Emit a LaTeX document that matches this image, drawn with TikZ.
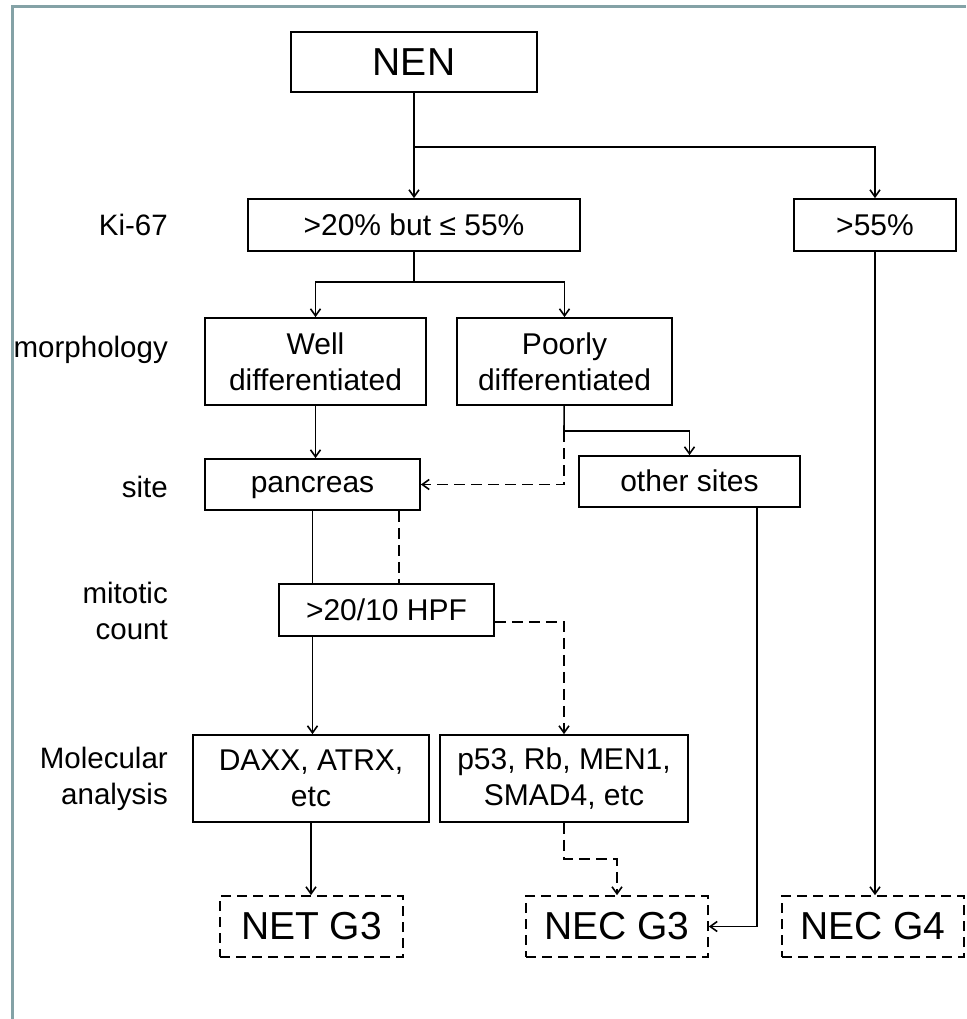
\documentclass[tikz,border=0pt]{standalone}
\usepackage{fontspec}
\setmainfont{Liberation Sans}
\usetikzlibrary{arrows.meta, positioning}

\definecolor{framegray}{RGB}{132,162,166}

\begin{document}
\begin{tikzpicture}[
    x=1pt, y=-1pt,
    stage/.style={rectangle, draw=black, line width=1.7pt, fill=white, inner sep=2pt, align=center, font=\fontsize{30}{36}\selectfont},
    grade/.style={stage, dash pattern=on 10pt off 6pt, font=\fontsize{39}{44}\selectfont},
    rowlabel/.style={anchor=east, align=right, inner sep=0pt, font=\fontsize{29.5}{36}\selectfont},
    conn/.style={line width=1.6pt, -{Straight Barb[length=7pt,width=10pt]}},
    dconn/.style={conn, dash pattern=on 11pt off 6pt},
    wire/.style={line width=1.6pt},
    dline/.style={wire, dash pattern=on 11pt off 6pt}
]
\useasboundingbox (0,0) rectangle (966,1019);

% Frame
\draw[framegray, line width=3pt] (966,7) -- (12,7) -- (12,1019);

% Row labels
\node[rowlabel] (lki) at (168,225) {Ki-67};
\node[rowlabel] (lmorph) at (168,350) {morphology};
\node[rowlabel] (lsite) at (168,487) {site};
\node[rowlabel] (lmit) at (168,611) {mitotic\\count};
\node[rowlabel] (lmol) at (168,779) {Molecular\\analysis};

% Boxes
\node[stage, minimum width=246pt, minimum height=60pt, font=\fontsize{39}{44}\selectfont] (nen) at (414,62) {NEN};

\node[stage, minimum width=332pt, minimum height=52pt] (mid) at (414,225) {>20\% but ≤ 55\%};
\node[stage, minimum width=162pt, minimum height=52pt] (high) at (875,225) {>55\%};

\node[stage, minimum width=221pt, minimum height=87pt] (well) at (315.5,361.5) {Well\\differentiated};
\node[stage, minimum width=215pt, minimum height=87pt] (poor) at (564.5,361.5) {Poorly\\differentiated};

\node[stage, minimum width=215pt, minimum height=51pt, text height=21pt, text depth=6pt] (pancreas) at (312.5,484.5) {pancreas};
\node[stage, minimum width=221pt, minimum height=51pt, text height=23pt, text depth=3pt] (other) at (689.5,481.5) {other sites};

\node[stage, minimum width=215pt, minimum height=52pt] (hpf) at (386.5,610) {>20/10 HPF};

\node[stage, minimum width=236pt, minimum height=87pt] (daxx) at (311,778.5) {DAXX, ATRX,\\etc};
\node[stage, minimum width=248pt, minimum height=87pt] (p53) at (564,778.5) {p53, Rb, MEN1,\\SMAD4, etc};

\node[grade, minimum width=183pt, minimum height=61pt] (netg3) at (311.5,926.5) {NET G3};
\node[grade, minimum width=182pt, minimum height=61pt] (necg3) at (617,926.5) {NEC G3};
\node[grade, minimum width=182pt, minimum height=61pt] (necg4) at (873,926.5) {NEC G4};

% Junctions
\coordinate (split) at (414,147);
\coordinate (fork) at (414,282);
\coordinate (pk) at (564,431);

% Connectors
\draw[conn] (nen) -- (mid);
\draw[conn] (split) -| (high);

\draw[wire] (mid) -- (fork);
\draw[conn] (fork) -| (well);
\draw[conn] (fork) -| (poor);

\draw[conn] (well) -- (well |- pancreas.north);
\draw[wire] (poor) -- (pk);
\draw[conn] (pk) -| (other);
\draw[dconn] (pk) |- (pancreas.east);

\draw[wire] (pancreas.south) -- (pancreas.south |- hpf.north);
\draw[conn] (pancreas.south |- hpf.south) -- (pancreas.south |- daxx.north);
\draw[dline] ([xshift=-22pt]pancreas.south east) -- ([xshift=-22pt]pancreas.south east |- hpf.north);
\draw[dconn] ([yshift=-12pt]hpf.east) -| (p53);

\draw[conn] (daxx) -- (daxx |- netg3.north);
\draw[dconn] (p53.south) -- ++(0,36) -| (necg3);
\draw[conn] ([xshift=67.5pt]other.south) |- (necg3.east);
\draw[conn] (high) -- (high |- necg4.north);

\end{tikzpicture}
\end{document}
